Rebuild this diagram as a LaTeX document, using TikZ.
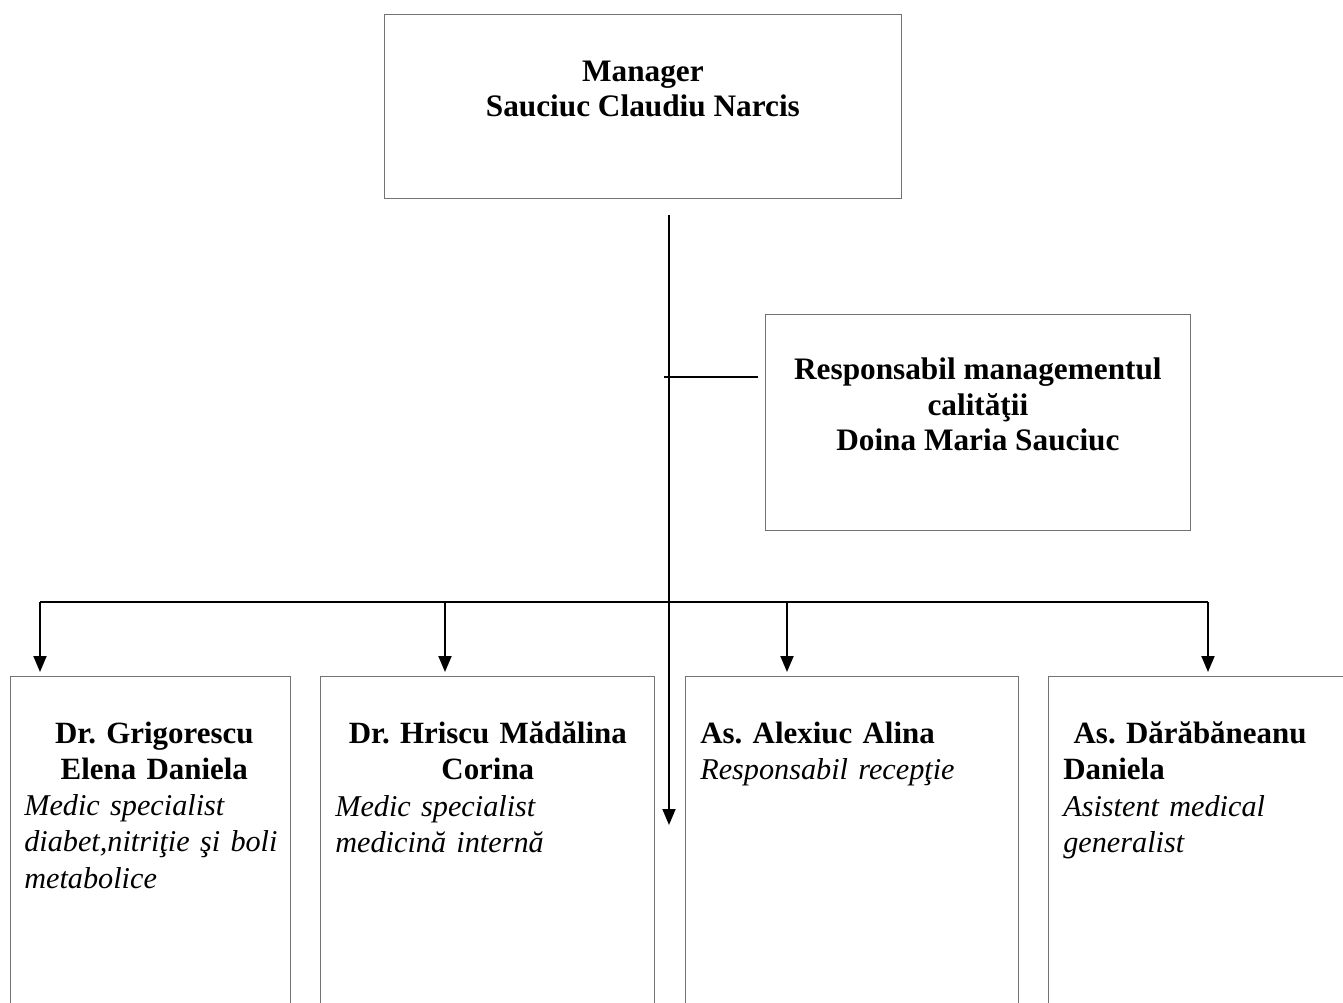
\documentclass[tikz,border=0pt]{standalone}
\usepackage{fontspec}
\setmainfont{Liberation Serif}
\usetikzlibrary{positioning, arrows.meta}
\newcommand\rolefont{\fontsize{17.2}{20.6}\selectfont\itshape}

\begin{document}
\begin{tikzpicture}[x=0.02cm, y=-0.02cm,
	box/.style={draw=black!55, line width=0.5pt, inner sep=0pt, anchor=north west},
	lbl/.style={inner sep=0pt, font=\fontsize{17.6}{20.6}\selectfont\frenchspacing},
	head/.style={lbl, align=center, font=\fontsize{17.8}{20.2}\selectfont\frenchspacing\bfseries},
	line/.style={line width=1.1pt},
	arr/.style={line, -{Triangle[length=0.32cm, width=0.26cm]}}]
\clip (0, 0) rectangle (1343, 1003);
% boxes
\node[box, minimum width=10.34cm, minimum height=3.68cm] (mgr) at (384, 14) {};
\node[box, minimum width=8.5cm, minimum height=4.32cm] (resp) at (765, 314) {};
\node[box, minimum width=5.6cm, minimum height=8cm] (b1) at (10, 676) {};
\node[box, minimum width=6.68cm, minimum height=8cm] (b2) at (320, 676) {};
\node[box, minimum width=6.66cm, minimum height=8cm] (b3) at (685, 676) {};
\node[box, minimum width=6.8cm, minimum height=8cm] (b4) at (1048, 676) {};
% texts
\node[head, below=0.93cm of mgr.north] (mgrtxt) {Manager\\Sauciuc Claudiu Narcis};
\node[head, below=0.87cm of resp.north] (resptxt) {Responsabil managementul\\calităţii\\Doina Maria Sauciuc};
\node[lbl, text width=5.2cm, align=left, below right=0.91cm and 0.28cm of b1.north west] (b1txt)
	{{\centering\bfseries Dr. Grigorescu\\Elena Daniela\par}\rolefont Medic specialist\\diabet,nitriţie şi boli\\metabolice};
\node[lbl, text width=6.1cm, align=left, below right=0.91cm and 0.3cm of b2.north west] (b2txt)
	{{\centering\bfseries Dr. Hriscu Mădălina\\Corina\par}\rolefont Medic specialist\\medicină internă};
\node[lbl, text width=6cm, align=left, below right=0.91cm and 0.3cm of b3.north west] (b3txt)
	{\textbf{As. Alexiuc Alina}\\{\rolefont Responsabil recepţie}};
\node[lbl, text width=6cm, align=left, below right=0.91cm and 0.3cm of b4.north west] (b4txt)
	{\textbf{\ As. Dărăbăneanu}\\\textbf{Daniela}\\{\rolefont Asistent medical}\\{\rolefont generalist}};
% connectors
\coordinate (t0) at (669, 215);
\coordinate (t1) at (669, 825);
\coordinate (s0) at (664, 377);
\draw[arr] (t0) -- (t1);
\draw[line, shorten >=0.14cm] (s0) -- (s0 -| resp.west);
\draw[line] (40, 602) coordinate (busw) -- (1208, 602) coordinate (buse);
\foreach \b/\x in {b1/40, b2/445, b3/787, b4/1208} {
	\path (\x, 602) coordinate (j\b);
	\draw[arr, shorten >=0.08cm] (j\b) -- (j\b |- \b.north);
}
\end{tikzpicture}
\end{document}
